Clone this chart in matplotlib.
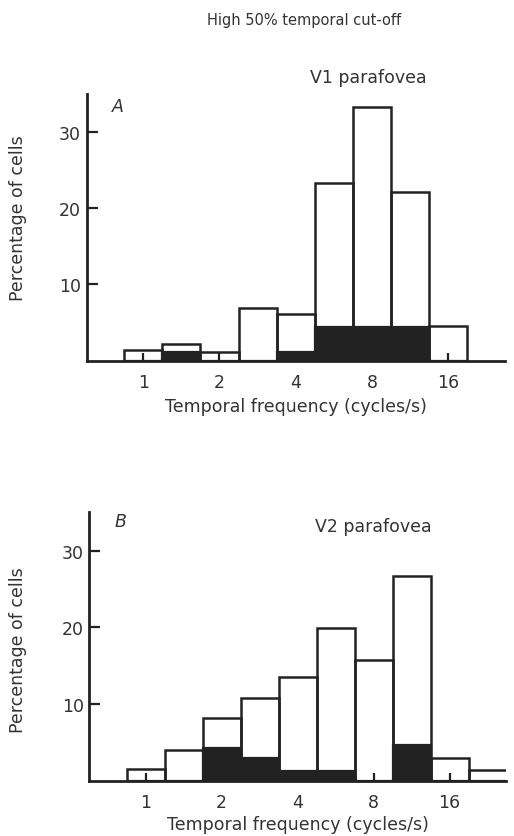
import numpy as np
import matplotlib.pyplot as plt

plt.rcParams['font.family'] = ['DejaVu Sans']

# bin centres (log2 of cycles/s), half-octave bins
centres_a = [0, 0.5, 1, 1.5, 2, 2.5, 3, 3.5, 4]
total_a = [1.4, 2.2, 1.1, 6.9, 6.1, 23.3, 33.3, 22.2, 4.6]
black_a = [0, 1.1, 0, 0, 1.1, 4.4, 4.4, 4.4, 0]

centres_b = [0, 0.5, 1, 1.5, 2, 2.5, 3, 3.5, 4, 4.5]
total_b = [1.5, 4.0, 8.2, 10.8, 13.5, 19.9, 15.8, 26.7, 3.0, 1.4]
black_b = [0, 0, 4.2, 2.9, 1.2, 1.2, 0, 4.7, 0, 0]

xticks = [1, 2, 4, 8, 16]
yticks = [10, 20, 30]

fig = plt.figure(figsize=(5.14, 8.37), dpi=100)
fig.text(0.591, 0.976, 'High 50% temporal cut-off', ha='center', va='center',
         fontsize=10.5, color='#333333')


def panel(rect, centres, total, black, letter, letter_xy, name, name_xy,
          ylab_xy, xpad):
    ax = fig.add_axes(rect)
    c = np.array(centres, dtype=float)
    left = 2 ** (c - 0.25)
    width = 2 ** (c + 0.25) - left
    ax.bar(left, black, width=width, align='edge', color='#222222',
           edgecolor='#222222', linewidth=1.6, zorder=2)
    ax.bar(left, total, width=width, align='edge', facecolor='none',
           edgecolor='#222222', linewidth=1.8, zorder=3)
    ax.set_xscale('log', base=2)
    ax.set_xlim(2 ** -0.74, 2 ** 4.74)
    ax.set_ylim(0, 35)
    ax.set_xticks(xticks)
    ax.set_xticklabels([str(t) for t in xticks])
    ax.minorticks_off()
    ax.set_yticks(yticks)
    for s in ['top', 'right']:
        ax.spines[s].set_visible(False)
    for s in ['left', 'bottom']:
        ax.spines[s].set_linewidth(2.0)
        ax.spines[s].set_color('#222222')
    ax.tick_params(axis='both', direction='in', width=1.6,
                   color='#222222', labelsize=12.5, labelcolor='#333333')
    ax.tick_params(axis='x', length=6, pad=9)
    ax.tick_params(axis='y', length=8, pad=4)
    ax.set_ylabel('Percentage of cells', fontsize=12.5, color='#333333')
    ax.yaxis.set_label_coords(*ylab_xy)
    ax.set_xlabel('Temporal frequency (cycles/s)', fontsize=12.5,
                  color='#333333', labelpad=xpad)
    ax.text(letter_xy[0], letter_xy[1], letter, transform=ax.transAxes,
            style='italic', fontsize=12.5, color='#333333',
            ha='center', va='center')
    ax.text(name_xy[0], name_xy[1], name, transform=ax.transAxes,
            fontsize=12.5, color='#333333', ha='center', va='center')
    return ax


panel([0.1687, 0.5679, 0.8133, 0.3186], centres_a, total_a, black_a,
      'A', (0.075, 0.955), 'V1 parafovea', (0.674, 1.064), (-0.143, 0.539), 4)
panel([0.1737, 0.0661, 0.8103, 0.3206], centres_b, total_b, black_b,
      'B', (0.074, 0.968), 'V2 parafovea', (0.681, 0.949), (-0.150, 0.49), 3)

fig.savefig('out.png', dpi=100)
